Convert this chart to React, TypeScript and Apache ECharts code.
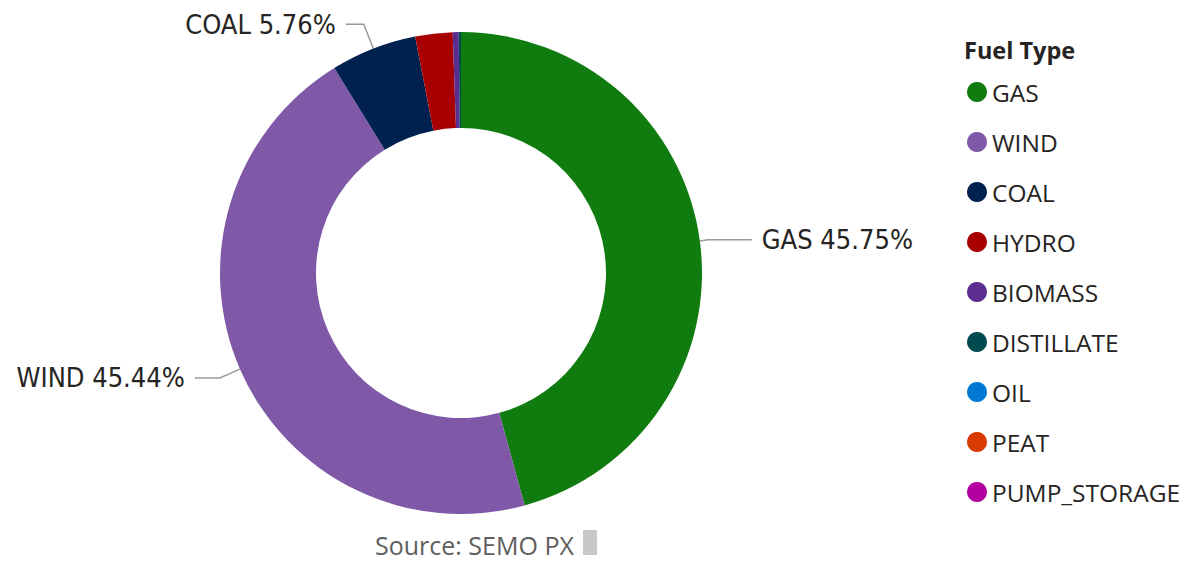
import React, { useEffect, useRef } from "react";
import * as echarts from "echarts";

const categories = ["GAS", "WIND", "COAL", "HYDRO", "BIOMASS", "DISTILLATE", "OIL", "PEAT", "PUMP_STORAGE"];
const shares = [45.75, 45.44, 5.76, 2.5, 0.4, 0.15, 0, 0, 0];
const colors = ["#107C10", "#7F58A8", "#002050", "#A80000", "#5C2D91", "#004B50", "#0078D4", "#D83B01", "#B4009E"];
const labelled = ["GAS", "WIND", "COAL"];
const lineLengths: Record<string, [number, number]> = {
  GAS: [8, 44],
  WIND: [22, 25],
  COAL: [26, 18],
};

export default function App() {
  const ref = useRef<HTMLDivElement>(null);
  useEffect(() => {
    document.body.style.margin = "0";
    const chart = echarts.init(ref.current!, undefined, { renderer: "svg" });
    const data = categories.map((name, i) => {
      const show = labelled.includes(name);
      const ll = lineLengths[name] || [10, 10];
      return {
        name,
        value: shares[i],
        itemStyle: { color: colors[i] },
        label: { show },
        labelLine: { show, length: ll[0], length2: ll[1] },
      };
    });
    chart.setOption({
      animation: false,
      title: {
        text: "Fuel Type",
        left: 964,
        top: 35,
        padding: 0,
        textStyle: { fontFamily: "Open Sans", fontSize: 23.5, fontWeight: "bold", color: "#252423", lineHeight: 30 },
      },
      legend: {
        orient: "vertical",
        left: 967,
        top: 79.5,
        padding: 0,
        icon: "circle",
        itemWidth: 20,
        itemHeight: 20,
        itemGap: 25,
        selectedMode: false,
        data: categories,
        textStyle: { fontFamily: "Open Sans", fontSize: 24.5, color: "#252423" },
      },
      graphic: [
        {
          type: "text",
          left: 375,
          top: 532,
          style: { text: "Source: SEMO PX", font: "25px 'Open Sans'", fill: "#605E5C" },
        },
        {
          type: "rect",
          shape: { x: 583, y: 530, width: 14, height: 25 },
          style: { fill: "#C8C8C8" },
        },
      ],
      series: [
        {
          type: "pie",
          center: [461, 273],
          radius: [145, 241],
          startAngle: 90,
          clockwise: true,
          avoidLabelOverlap: false,
          minShowLabelAngle: 0,
          label: {
            fontFamily: "DejaVu Sans Condensed",
            fontSize: 27,
            color: "#252423",
            distanceToLabelLine: 10,
            formatter: (p: any) => `${p.name} ${Number(p.value).toFixed(2)}%`,
          },
          labelLine: { lineStyle: { color: "#9A9A9A", width: 1.5 } },
          emphasis: { disabled: true },
          data,
        },
      ],
    });
    return () => chart.dispose();
  }, []);
  return <div ref={ref} style={{ width: 1186, height: 565 }} />;
}
